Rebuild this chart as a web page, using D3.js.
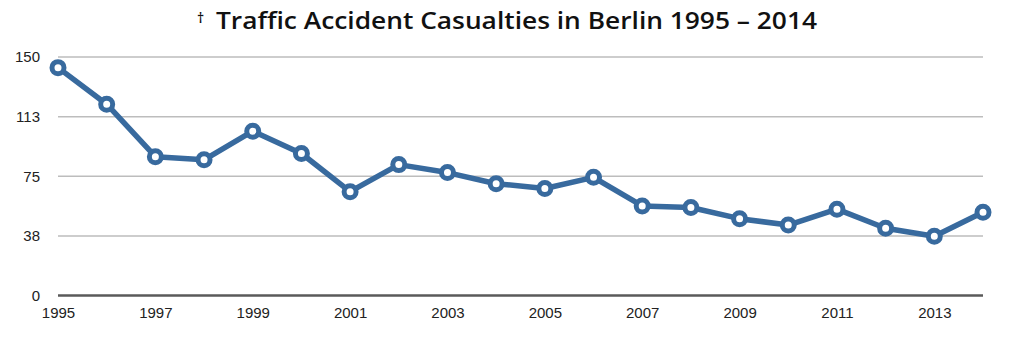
<!DOCTYPE html>
<html>
<head>
<meta charset="utf-8">
<script src="https://cdn.jsdelivr.net/npm/d3@7/dist/d3.min.js"></script>
<style>
  html, body { margin: 0; padding: 0; background: #fff; }
  svg { display: block; }
</style>
</head>
<body>
<svg id="chart" width="1024" height="338"></svg>
<script>
// Traffic accident casualties (deaths) in Berlin, by year
const years = [1995, 1996, 1997, 1998, 1999, 2000, 2001, 2002, 2003, 2004,
               2005, 2006, 2007, 2008, 2009, 2010, 2011, 2012, 2013, 2014];
const casualties = [143, 120, 87, 85, 103, 89, 65, 82, 77, 70,
                    67, 74, 56, 55, 48, 44, 54, 42, 37, 52];
const yTicks = [0, 37.5, 75, 112.5, 150];
const yTickLabels = ["0", "38", "75", "113", "150"];
const xTickYears = [1995, 1997, 1999, 2001, 2003, 2005, 2007, 2009, 2011, 2013];
const titleMark = "\u2020";
const titleText = "Traffic Accident Casualties in Berlin 1995 \u2013 2014";

const data = years.map((y, i) => ({ year: y, value: casualties[i] }));

const svg = d3.select("#chart");
const margin = { left: 58, right: 41, top: 56.5, bottom: 43 };
const W = 1024, H = 338;

const x = d3.scaleLinear()
  .domain([1995, 2014])
  .range([margin.left, W - margin.right]);
const y = d3.scaleLinear()
  .domain([0, 150])
  .range([H - margin.bottom, margin.top]);

const blue = "#386a9e";

// title: small raised dagger, then the heading
const title = svg.append("text")
  .attr("font-family", "'Open Sans', Lato, sans-serif")
  .attr("fill", "#111");
title.append("tspan")
  .attr("x", 197)
  .attr("y", 23)
  .attr("font-size", 14)
  .attr("font-weight", 600)
  .text(titleMark);
title.append("tspan")
  .attr("x", 216)
  .attr("y", 29)
  .attr("font-size", 23)
  .attr("font-weight", 600)
  .attr("textLength", 601)
  .attr("lengthAdjust", "spacingAndGlyphs")
  .text(titleText);

// horizontal gridlines + y labels
const yAxis = d3.axisLeft(y)
  .tickValues(yTicks)
  .tickSize(-(W - margin.left - margin.right))
  .tickPadding(18)
  .tickFormat((d, i) => yTickLabels[i]);

const gy = svg.append("g")
  .attr("transform", `translate(${margin.left},0)`)
  .call(yAxis);
gy.select(".domain").remove();
gy.selectAll(".tick line")
  .attr("stroke", d => d === 0 ? "#5a5a5a" : "#bdbdbd")
  .attr("stroke-width", d => d === 0 ? 2.5 : 1.5);
gy.selectAll(".tick text")
  .attr("font-family", "'Liberation Sans', Arial, sans-serif")
  .attr("font-size", 15)
  .attr("fill", "#222")
  .attr("dy", "0.36em");

// x labels
const xAxis = d3.axisBottom(x)
  .tickValues(xTickYears)
  .tickSize(0)
  .tickPadding(12)
  .tickFormat(d3.format("d"));
const gx = svg.append("g")
  .attr("transform", `translate(0,${H - margin.bottom})`)
  .call(xAxis);
gx.select(".domain").remove();
gx.selectAll(".tick text")
  .attr("font-family", "'Liberation Sans', Arial, sans-serif")
  .attr("font-size", 15)
  .attr("fill", "#222");

// the series line
const line = d3.line()
  .x(d => x(d.year))
  .y(d => y(d.value));

svg.append("path")
  .datum(data)
  .attr("fill", "none")
  .attr("stroke", blue)
  .attr("stroke-width", 5.5)
  .attr("stroke-linejoin", "round")
  .attr("d", line);

// point markers
svg.append("g")
  .selectAll("circle")
  .data(data)
  .join("circle")
  .attr("cx", d => x(d.year))
  .attr("cy", d => y(d.value))
  .attr("r", 6)
  .attr("fill", "#fff")
  .attr("stroke", blue)
  .attr("stroke-width", 5);
</script>
</body>
</html>
